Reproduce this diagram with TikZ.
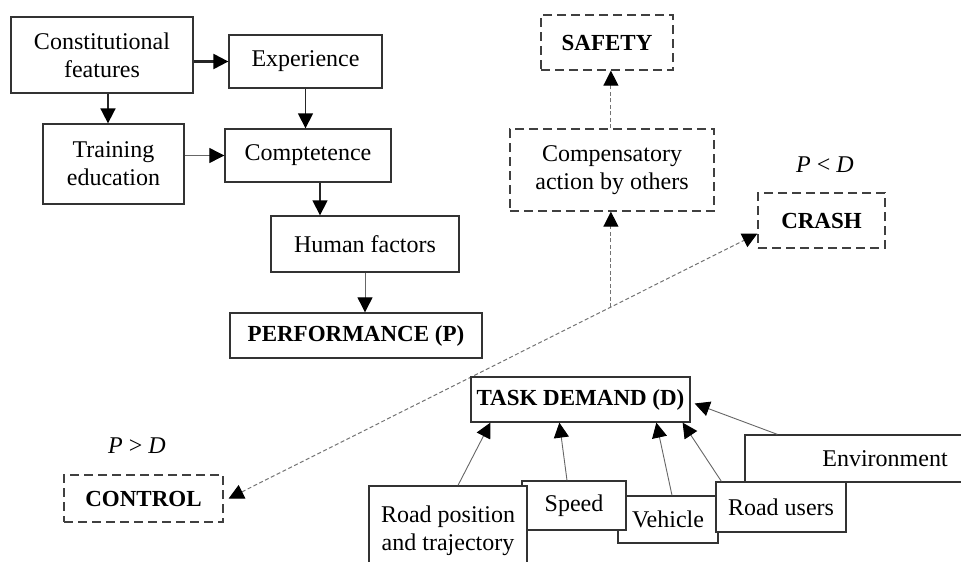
\documentclass[tikz,border=0pt]{standalone}
\usepackage{fontspec}
\setmainfont{Liberation Serif}
\usetikzlibrary{arrows.meta}

\begin{document}
\begin{tikzpicture}
  [x=1pt,y=-1pt,
   every node/.style={inner sep=0pt,align=center,font=\fontsize{24}{28}\selectfont},
   box/.style={draw=black!80,line width=1.3pt,fill=white},
   dbox/.style={draw=black!75,line width=1.3pt,dash pattern=on 9pt off 5pt,
     font=\fontsize{23}{28}\selectfont\bfseries},
   >={Triangle[length=15pt,width=15pt,color=black]},
   link/.style={->,draw=black!85,line width=1.3pt},
   thin link/.style={->,draw=black!60,line width=0.9pt},
   dlink/.style={draw=black!55,line width=1pt,dash pattern=on 4pt off 2.5pt}]
  \useasboundingbox (0,0) rectangle (961,562);
  \clip (0,0) rectangle (961,562);

  % human side
  \node[box,minimum width=182pt,minimum height=76pt] (const) at (102,55) {Constitutional\\features};
  \node[box,minimum width=153pt,minimum height=53pt] (exper) at (305.5,61.5) {Experience};
  \node[box,minimum width=141pt,minimum height=80pt] (train) at (113.5,164) {Training\\education};
  \node[box,minimum width=166pt,minimum height=53pt] (comp) at (308,155.5) {Comptetence};
  \node[box,minimum width=188pt,minimum height=56pt] (human) at (365,244) {Human factors};
  \node[box,minimum width=252pt,minimum height=45pt,font=\fontsize{23}{28}\selectfont\bfseries] (perf) at (356,335.5) {PERFORMANCE (P)};

  \draw[link,line width=2.2pt] (const.east |- exper.west) -- (exper.west);
  \draw[link,line width=1.8pt] ([xshift=6pt]const.south) -- ([xshift=6pt]const.south |- train.north);
  \draw[link] (exper.south) -- (exper.south |- comp.north);
  \draw[thin link] (train.east |- comp.west) -- (comp.west);
  \draw[link] ([xshift=12pt]comp.south) -- ([xshift=12pt]comp.south |- human.north);
  \draw[thin link] (human.south) -- (human.south |- perf.north);

  % outcomes
  \node[dbox,minimum width=132pt,minimum height=55pt] (safety) at (607,42.5) {SAFETY};
  \node[dbox,minimum width=204pt,minimum height=82pt,font=\fontsize{24}{28}\selectfont] (compens) at (612,170) {Compensatory\\action by others};
  \node[dbox,minimum width=127pt,minimum height=55pt] (crash) at (821.5,220.5) {CRASH};
  \node[dbox,minimum width=159pt,minimum height=47pt] (control) at (143.5,498.5) {CONTROL};
  \node (pless) at (825,165) {\textit{P} < \textit{D}};
  \node (pmore) at (137,446) {\textit{P} > \textit{D}};

  \draw[dlink,<->] ([xshift=5pt]control.east) -- coordinate[pos=0.723] (split) ([yshift=15pt]crash.south west);
  \draw[dlink,->] (split) -- (split |- compens.south);
  \draw[dlink,->] (split |- compens.north) -- (split |- safety.south);

  % task side
  \node[box,minimum width=280pt,minimum height=47pt] (env) at (885,458.5) {Environment};
  \node[box,minimum width=100pt,minimum height=47pt] (vehicle) at (668,519.5) {Vehicle};
  \node[box,minimum width=130pt,minimum height=50pt] (users) at (781,507) {Road users};
  \node[box,minimum width=104pt,minimum height=49pt] (speed) at (574,505.5) {Speed};
  \node[box,minimum width=158pt,minimum height=90pt] (road) at (448,531) {Road position\\and trajectory};
  \node[box,minimum width=219pt,minimum height=45pt,font=\fontsize{23}{28}\selectfont\bfseries] (task) at (580.5,399.5) {TASK DEMAND (D)};

  \draw[thin link] ([xshift=10pt]road.north) -- ([xshift=20pt]task.south west);
  \draw[thin link] ([xshift=-7pt]speed.north) -- ([xshift=89pt]task.south west);
  \draw[thin link] ([xshift=4pt]vehicle.north) -- ([xshift=186pt]task.south west);
  \draw[thin link] ([xshift=6pt]users.north west) -- ([xshift=-8pt]task.south east);
  \draw[thin link] ([xshift=33pt]env.north west) -- ([xshift=4pt,yshift=-4pt]task.east);
\end{tikzpicture}
\end{document}
